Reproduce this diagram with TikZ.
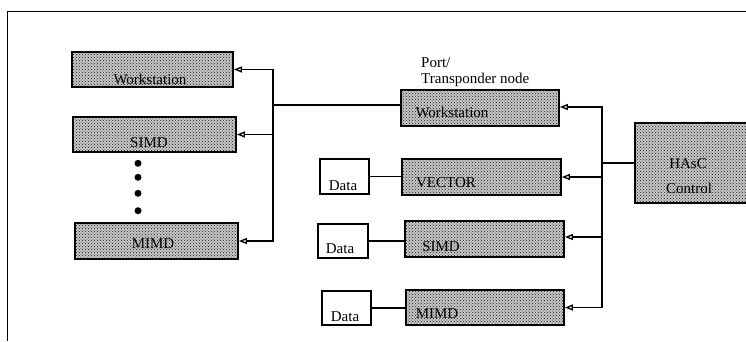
\documentclass[tikz,border=0pt]{standalone}
\usepackage{fontspec}
\setmainfont{Liberation Serif}
\usetikzlibrary{arrows.meta,patterns}
\tikzset{
  unit/.style={rectangle, draw, line width=1.8pt, fill=black!22,
    postaction={pattern=crosshatch dots, pattern color=black!90}},
  databox/.style={rectangle, draw, line width=1.3pt, fill=white,
    minimum width=49pt, minimum height=35pt},
  txt/.style={anchor=base, inner sep=0pt, font=\fontsize{15}{18}\selectfont},
  link/.style={line width=1.2pt},
  feed/.style={line width=1.2pt, -{Triangle[open, length=8pt, width=6pt, line width=1.3pt]}},
  frameline/.style={line width=1.5pt},
  dotmark/.style={circle, fill=black, inner sep=0pt, minimum size=7pt}
}
\begin{document}
\begin{tikzpicture}[x=1pt, y=-1pt]
\useasboundingbox (0,0) rectangle (746,341);

% frame edges
\draw[frameline] (7.5,341) -- (7.5,11.5) -- (746,11.5);

% left column of machines
\node[unit, minimum width=161pt, minimum height=35pt] (lw) at (152.5,69.5) {};
\node[unit, minimum width=163pt, minimum height=35pt] (ls) at (154.5,134.5) {};
\node[unit, minimum width=163pt, minimum height=36pt] (lm) at (156.5,241) {};
\node[txt] (lwt) at (150,84) {Workstation};
\node[txt] (lst) at (149,147) {SIMD};
\node[txt] (lmt) at (153,248) {MIMD};

% ellipsis dots
\node[dotmark] (e1) at (138,163.3) {};
\node[dotmark] (e2) at (138,177.3) {};
\node[dotmark] (e3) at (138,193.3) {};
\node[dotmark] (e4) at (138,210.7) {};

% right column: port/transponder nodes
\node[unit, minimum width=158pt, minimum height=36pt] (rw) at (480,108) {};
\node[unit, minimum width=159pt, minimum height=36pt] (rv) at (481.5,177) {};
\node[unit, minimum width=159pt, minimum height=36pt] (rs) at (484.5,239) {};
\node[unit, minimum width=158pt, minimum height=35pt] (rm) at (485,307.5) {};
\node[txt] (rwt) at (452,117) {Workstation};
\node[txt] (rvt) at (446,187) {VECTOR};
\node[txt] (rst) at (441,251) {SIMD};
\node[txt] (rmt) at (437,318) {MIMD};

\node[txt, anchor=base west] (port) at (421,67) {Port/};
\node[txt, anchor=base west] (trans) at (421,83) {Transponder node};

% control unit
\node[unit, minimum width=115pt, minimum height=80pt] (hasc) at (692.5,163) {};
\node[txt] (hasct) at (688,168) {HAsC};
\node[txt] (ctrlt) at (689,193) {Control};

% data stores
\node[databox] (d1) at (344.5,176.5) {};
\node[databox, minimum width=50pt, minimum height=34pt] (d2) at (343,241) {};
\node[databox, minimum height=34pt] (d3) at (346.5,308) {};
\node[txt] (d1t) at (343,190) {Data};
\node[txt] (d2t) at (340,253) {Data};
\node[txt] (d3t) at (345,321) {Data};

% left bus
\coordinate (lb) at (273,105);
\draw[link] (rw.west |- lb) -- (lb);
\draw[feed] (lb) |- (lw.east);
\draw[feed] (lb) |- (ls.east);
\draw[feed] (lb) |- (lm.east);

% right bus
\coordinate (rb) at (602,163);
\draw[link] (hasc.west) -- (rb);
\draw[feed] (rb) |- ([yshift=1pt]rw.east);
\draw[feed] (rb) |- (rv.east);
\draw[feed] (rb) |- ([yshift=2pt]rs.east);
\draw[feed] (rb) |- (rm.east);

% data links
\draw[link] (d1.east) -- (d1.east -| rv.west);
\draw[link] (d2.east) -- (d2.east -| rs.west);
\draw[link] (d3.east) -- (d3.east -| rm.west);
\end{tikzpicture}
\end{document}
